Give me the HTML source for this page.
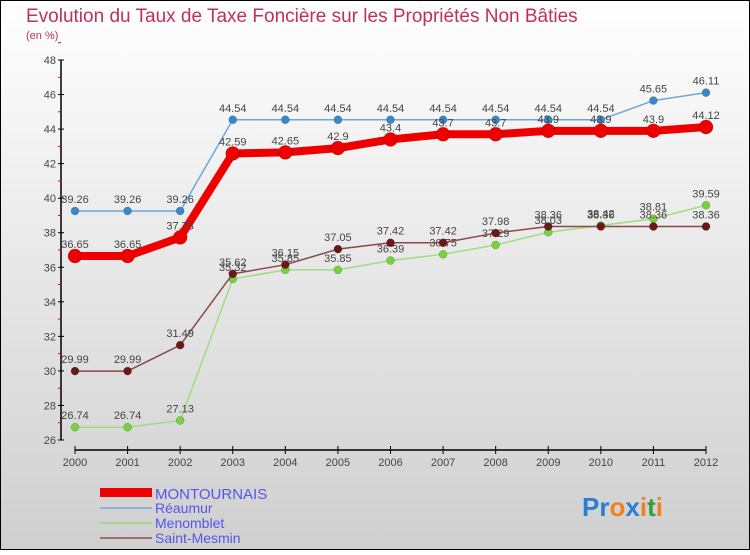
<!DOCTYPE html>
<html><head><meta charset="utf-8"><style>
body{margin:0}
#c{width:750px;height:550px;position:relative;font-family:"Liberation Sans",sans-serif;}
</style></head><body>
<div id="c">
<svg id="s" width="750" height="550" xmlns="http://www.w3.org/2000/svg">
<defs><linearGradient id="bg" x1="0" y1="0" x2="0" y2="1"><stop offset="0" stop-color="#ffffff"/><stop offset="1" stop-color="#cfcfcf"/></linearGradient></defs>
<rect x="0.5" y="0.5" width="749" height="549" fill="url(#bg)" stroke="#000"/>
<text x="26" y="22" font-size="19" fill="#c0305a">Evolution du Taux de Taxe Foncière sur les Propriétés Non Bâties</text>
<text x="26" y="39" font-size="11" fill="#c0305a">(en %)</text>
<g id="axes"></g><g id="series"></g>
<g>
<rect x="100" y="488" width="52" height="9" fill="#e00"/>
<text x="155" y="499" font-size="15" fill="#5555ee">MONTOURNAIS</text>
<line x1="100" y1="508" x2="152" y2="508" stroke="#8ab4d8" stroke-width="2"/>
<text x="155" y="513" font-size="14" fill="#5555ee">Réaumur</text>
<line x1="100" y1="523" x2="152" y2="523" stroke="#9ed88a" stroke-width="2"/>
<text x="155" y="528" font-size="14" fill="#5555ee">Menomblet</text>
<line x1="100" y1="538" x2="152" y2="538" stroke="#a07070" stroke-width="2"/>
<text x="155" y="543" font-size="14" fill="#5555ee">Saint-Mesmin</text>
</g>
<text x="582" y="516" font-size="26" font-weight="bold"><tspan fill="#2a7fd4">Pr</tspan><tspan fill="#f08020">o</tspan><tspan fill="#2a7fd4">x</tspan><tspan fill="#f08020">i</tspan><tspan fill="#30a040">t</tspan><tspan fill="#f08020">i</tspan></text>
</svg></div>
<script>
const years=[2000,2001,2002,2003,2004,2005,2006,2007,2008,2009,2010,2011,2012];
const montournais=[36.65,36.65,37.73,42.59,42.65,42.9,43.4,43.7,43.7,43.9,43.9,43.9,44.12];
const reaumur=[39.26,39.26,39.26,44.54,44.54,44.54,44.54,44.54,44.54,44.54,44.54,45.65,46.11];
const menomblet=[26.74,26.74,27.13,35.32,35.85,35.85,36.39,36.75,37.29,38.03,38.42,38.81,39.59];
const saintMesmin=[29.99,29.99,31.49,35.62,36.15,37.05,37.42,37.42,37.98,38.36,38.36,38.36,38.36];
const yTicks=[26,28,30,32,34,36,38,40,42,44,46,48];
const NS="http://www.w3.org/2000/svg";
const X=i=>75+i*(706-75)/(years.length-1);
const Y=v=>440-(v-26)*(380/22);
function mk(tag,attrs,parent,txt){const e=document.createElementNS(NS,tag);for(const k in attrs)e.setAttribute(k,attrs[k]);if(txt!==undefined)e.textContent=txt;parent.appendChild(e);return e;}
const ax=document.getElementById('axes');
let a=mk('line',{x1:61,y1:60,x2:61,y2:440,stroke:'#000','stroke-width':1.5},ax);


yTicks.forEach(v=>{
 mk('line',{x1:58,y1:Y(v),x2:64,y2:Y(v),stroke:'#000'},ax);
 mk('line',{x1:58,y1:Y(v+1),x2:61,y2:Y(v+1),stroke:'#e00'},ax);
 const t=mk('text',{x:56,y:Y(v)+4,'font-size':11,'text-anchor':'end',fill:'#444'},ax,v);
 
 
});
a=mk('line',{x1:75,y1:450,x2:706,y2:450,stroke:'#000','stroke-width':1.5},ax);


years.forEach((y,i)=>{
 mk('line',{x1:X(i),y1:446,x2:X(i),y2:454,stroke:'#000'},ax);
 const t=mk('text',{x:X(i),y:466,'font-size':11,'text-anchor':'middle',fill:'#444'},ax,y);
 
 
});
const sg=document.getElementById('series');
function draw(data,name,line,dot,w,r){
 const g=mk('g',{},sg);
 
 
 const p=mk('polyline',{points:data.map((v,i)=>X(i)+','+Y(v)).join(' '),fill:'none',stroke:line,'stroke-width':w},g);
 
 
 data.forEach((v,i)=>{
  const c=mk('circle',{cx:X(i),cy:Y(v),r:r,fill:dot,stroke:'rgba(0,0,0,0.3)','stroke-width':0.5},g);
  
  
  const t=mk('text',{x:X(i),y:Y(v)-8,'font-size':11,'text-anchor':'middle',fill:'#444'},g,v);
  
  
 });
}
draw(reaumur,'reaumur','#6fa8d8','#3a88c8',1.5,4);
draw(menomblet,'menomblet','#a0dc80','#7ad040',1.5,4);
draw(saintMesmin,'saint-mesmin','#8a4848','#6a1818',1.5,4);
draw(montournais,'montournais','#ee0000','#ee0000',8,7);
</script>
</body></html>
